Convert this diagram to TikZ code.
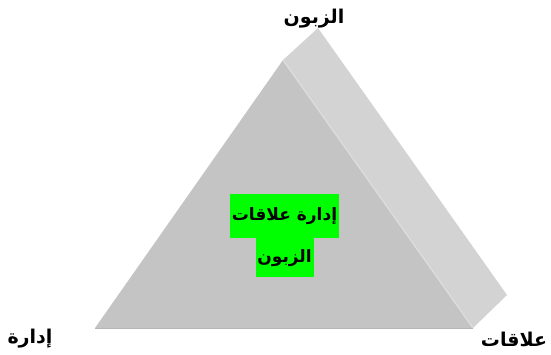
\documentclass[tikz,border=0pt]{standalone}
\usepackage{fontspec}
\usepackage{tikz}
\usepackage{xcolor}
\usetikzlibrary{positioning}
\newfontfamily\arabicfont[Script=Arabic]{DejaVu Sans}
\TeXXeTstate=1
\definecolor{frontgray}{HTML}{C4C4C4}
\definecolor{sidegray}{HTML}{D3D3D3}
\definecolor{edgegray}{HTML}{DEDEDE}
\definecolor{basegray}{HTML}{B5B5B5}
\definecolor{hlgreen}{HTML}{00FF00}

\begin{document}
\begin{tikzpicture}[
      x=1pt, y=-1pt,
      font=\arabicfont\bfseries\fontsize{19}{22}\selectfont,
      corner/.style={inner sep=0pt},
      hl/.style={fill=hlgreen, inner sep=0pt, align=center,
        font=\arabicfont\bfseries\fontsize{17}{20}\selectfont}
    ]
    \useasboundingbox (0,0) rectangle (551,354);
    \coordinate (apex) at (283,60);
    \coordinate (left) at (95,328);
    \coordinate (right) at (473,328);
    \coordinate (backapex) at (318,28);
    \coordinate (backright) at (507,295);

    % side face and front face
    \fill[sidegray] (apex) -- (backapex) -- (backright) -- (right) -- cycle;
    \fill[frontgray] (apex) -- (left) -- (right) -- cycle;
    \draw[edgegray, line width=1.2pt] (apex) -- (right);
    \draw[basegray, line width=1pt] (left) -- (right);

    \node[hl, minimum width=109pt, minimum height=44pt] (inner1) at (284.5,216)
      {\beginR إدارة علاقات\endR};
    \node[hl, minimum width=58pt, minimum height=39pt, below=0pt of inner1] (inner2)
      {\beginR الزبون\endR};

    \node[corner] (top) at (314,19) {\beginR الزبون\endR};
    \node[corner] (bl) at (30,339) {\beginR إدارة\endR};
    \node[corner] (br) at (514,339) {\beginR علاقات\endR};
  \end{tikzpicture}
\end{document}
